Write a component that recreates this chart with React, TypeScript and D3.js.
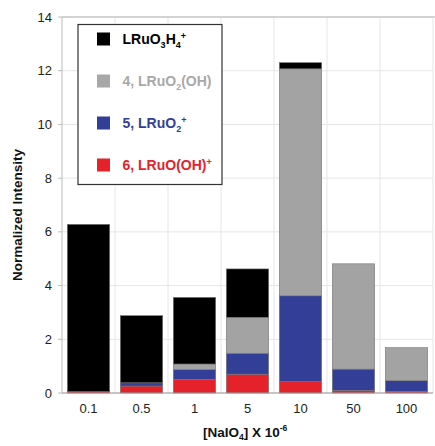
import React from "react";
import * as d3 from "d3";

const categories = ["0.1", "0.5", "1", "5", "10", "50", "100"];
const red = [0.05, 0.26, 0.51, 0.7, 0.42, 0.1, 0.06];
const blue = [0.0, 0.12, 0.36, 0.78, 3.2, 0.79, 0.4];
const gray = [0.0, 0.0, 0.21, 1.34, 8.45, 3.92, 1.23];
const black = [6.23, 2.5, 2.48, 1.8, 0.23, 0.0, 0.0];
const yTicks = [0, 2, 4, 6, 8, 10, 12, 14];

const seriesKeys = ["red", "blue", "gray", "black"];
const fills: Record<string, string> = {
  red: "#e5222a",
  blue: "#333f97",
  gray: "#a3a3a3",
  black: "#000000",
};

const legendItems = [
  { key: "black", color: "#000000", parts: [["LRuO", ""], ["3", "sub"], ["H", ""], ["4", "sub"], ["+", "sup"]] },
  { key: "gray", color: "#a8a8a8", parts: [["4, LRuO", ""], ["2", "sub"], ["(OH)", ""]] },
  { key: "blue", color: "#333f97", parts: [["5, LRuO", ""], ["2", "sub"], ["+", "sup"]] },
  { key: "red", color: "#e5222a", parts: [["6, LRuO(OH)", ""], ["+", "sup"]] },
];

export default function App() {
  const W = 435, H = 446;
  const left = 62, right = 433, top = 17, bottom = 393;
  const x = d3.scaleBand<string>().domain(categories).range([left, right]).paddingInner(0.2).paddingOuter(0.1);
  const xb = d3.scaleBand<string>().domain(categories).range([left, right]);
  const y = d3.scaleLinear().domain([0, 14]).range([bottom, top]);

  const table = categories.map((c, i) => ({ cat: c, red: red[i], blue: blue[i], gray: gray[i], black: black[i] }));
  const stacked = d3.stack<any>().keys(seriesKeys)(table);

  const font = "Helvetica, Arial, 'Liberation Sans', sans-serif";

  return (
    <svg width={W} height={H} style={{ position: "absolute", left: 0, top: 0 }} fontFamily={font}>
      <rect width={W} height={H} fill="#fff" />
      {yTicks.map((t) => (
        <line key={"gy" + t} x1={left} x2={right} y1={y(t)} y2={y(t)} stroke="#e6e6e6" strokeWidth={1} />
      ))}
      {categories.map((c) => (
        <line key={"gx" + c} x1={(xb(c) as number) + xb.bandwidth()} x2={(xb(c) as number) + xb.bandwidth()} y1={top} y2={bottom} stroke="#e6e6e6" strokeWidth={1} />
      ))}
      <line x1={left} x2={W} y1={top} y2={top} stroke="#c8c8c8" strokeWidth={1.5} />
      {stacked.map((s) =>
        s.map((d, i) =>
          d[1] - d[0] > 0 ? (
            <rect
              key={s.key + i}
              x={x(categories[i])}
              width={x.bandwidth()}
              y={y(d[1])}
              height={y(d[0]) - y(d[1])}
              fill={fills[s.key]}
              stroke="#777"
              strokeWidth={0.6}
            />
          ) : null
        )
      )}
      <line x1={left} x2={left} y1={top} y2={bottom} stroke="#bbb" strokeWidth={1} />
      <line x1={left} x2={right} y1={bottom} y2={bottom} stroke="#999" strokeWidth={1} />
      {yTicks.map((t) => (
        <g key={"yt" + t}>
          <line x1={left - 4} x2={left} y1={y(t)} y2={y(t)} stroke="#bbb" />
          <text x={52} y={y(t)} dy="0.35em" textAnchor="end" fontSize={13} fill="#222">{t}</text>
        </g>
      ))}
      {categories.map((c) => (
        <text key={"xt" + c} x={(x(c) as number) + x.bandwidth() / 2} y={413} textAnchor="middle" fontSize={13} fill="#222">{c}</text>
      ))}
      <text transform={`translate(22,${(top + bottom) / 2 + 10}) rotate(-90)`} textAnchor="middle" fontSize={13.5} fontWeight="bold" fill="#111">Normalized Intensity</text>
      <text x={203} y={437} fontSize={13.5} fontWeight="bold" fill="#111">
        [NaIO<tspan fontSize={8.5} dy={3}>4</tspan><tspan dy={-3}>] X 10</tspan><tspan fontSize={8.5} dy={-6}>-6</tspan>
      </text>
      <rect x={78} y={24.5} width={144} height={160} fill="#fff" stroke="#333" strokeWidth={1.2} />
      {legendItems.map((it, i) => {
        const cy = 39 + i * 42;
        return (
          <g key={it.key}>
            <rect x={97} y={cy - 6.5} width={13} height={13} fill={it.color} />
            <text x={122.5} y={cy + 5} fontSize={14} fontWeight="bold" fill={it.color}>
              {it.parts.map((p, j) => {
                const prev = j > 0 ? it.parts[j - 1][1] : "";
                let dy = 0;
                if (p[1] === "sub") dy = prev === "sup" ? 9 : 4;
                else if (p[1] === "sup") dy = prev === "sub" ? -9 : -5;
                else dy = prev === "sub" ? -4 : prev === "sup" ? 5 : 0;
                return (
                  <tspan key={j} dy={dy} fontSize={p[1] ? 9 : 14}>{p[0]}</tspan>
                );
              })}
            </text>
          </g>
        );
      })}
    </svg>
  );
}
